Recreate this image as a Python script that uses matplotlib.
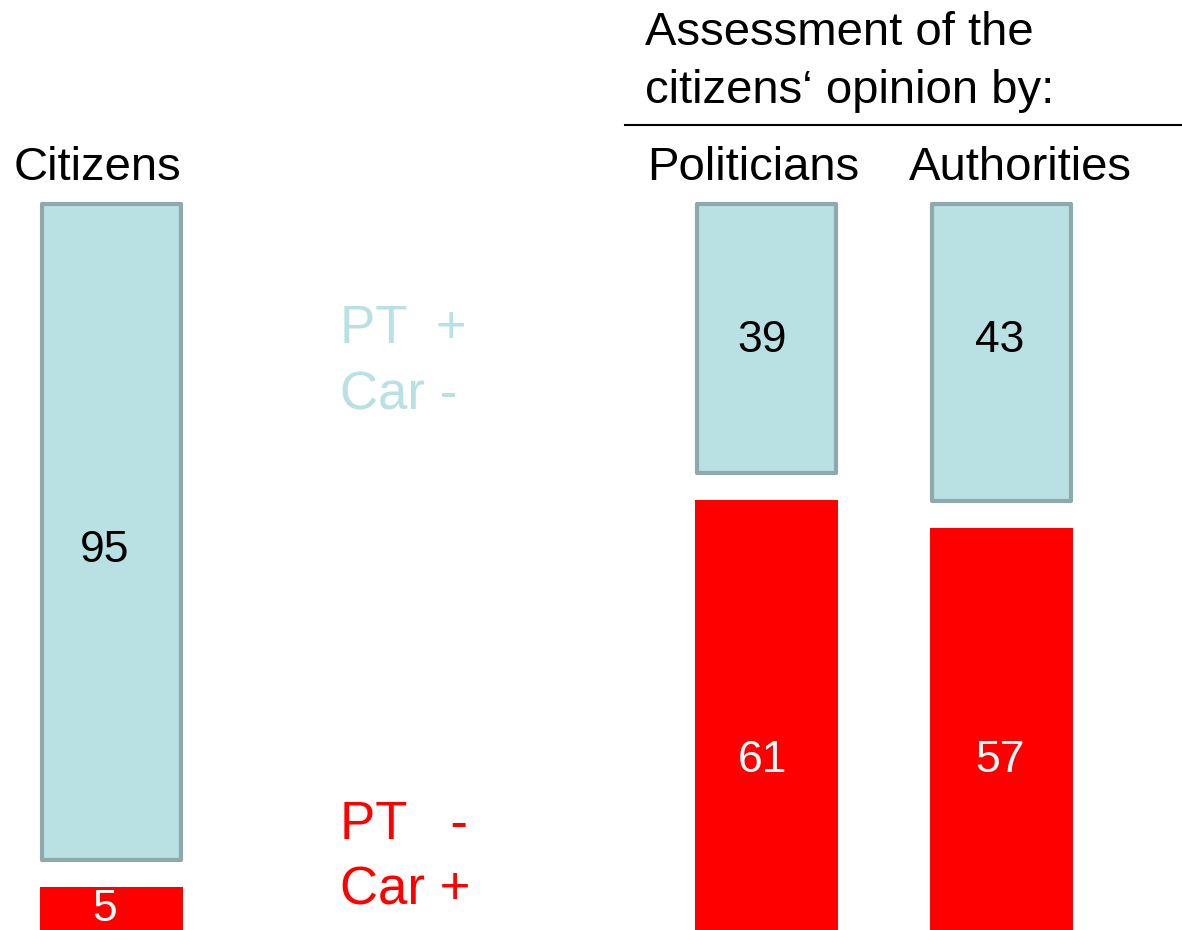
import matplotlib
matplotlib.use('Agg')
import matplotlib.pyplot as plt

# data
groups = ['Citizens', 'Politicians', 'Authorities']
pt_plus = [95, 39, 43]     # PT + / Car -
pt_minus = [5, 61, 57]     # PT - / Car +
title_txt = 'Assessment of the\ncitizens\u2018 opinion by:'

plt.rcParams['font.family'] = ['Liberation Sans', 'DejaVu Sans']

W, H = 1182, 930
fig = plt.figure(figsize=(W / 100, H / 100), dpi=100)
ax = fig.add_axes([0, 0, 1, 1])

scale = 6.9    # px per unit
gap = 3.9      # white gap between the two parts
y0 = -1.3      # red bars run slightly below the picture edge
ax.set_xlim(0, W)
ax.set_ylim(y0, y0 + H / scale)
ax.axis('off')

xpos = [111, 766, 1001]
red = '#ff0000'
blue = '#b9e0e3'
edge = '#8fa8aa'

ax.bar(xpos, [v - y0 for v in pt_minus], bottom=y0, width=143, color=red,
       linewidth=0)
bottoms = [v + gap for v in pt_minus]
ax.bar(xpos, pt_plus, bottom=bottoms, width=139, color=blue,
       edgecolor=edge, linewidth=3, joinstyle='round')


def fx(x):
    return x / W


def fy(y):
    return 1 - y / H


fs = 34
# group headers
fig.text(fx(97), fy(168), groups[0], fontsize=fs, ha='center', va='center')
fig.text(fx(753), fy(168), groups[1], fontsize=fs, ha='center', va='center')
fig.text(fx(1020), fy(168), groups[2], fontsize=fs, ha='center', va='center')

fig.text(fx(645), fy(62), title_txt, fontsize=fs, ha='left', va='center',
         linespacing=1.39)
ax.plot([fx(625), fx(1182)], [fy(125), fy(125)], color='black', lw=1.5,
        transform=fig.transFigure, clip_on=False)

# side labels
fig.text(fx(340), fy(362), 'PT  +\nCar -', fontsize=38, color=blue,
         ha='left', va='center', linespacing=1.42)
fig.text(fx(340), fy(858), 'PT   -\nCar +', fontsize=38, color=red,
         ha='left', va='center', linespacing=1.4)

# value labels
blue_lab_y = [550, 340, 340]
red_lab_y = [909, 760, 760]
lab_x = [105, 762, 1000]
for i in range(len(groups)):
    fig.text(fx(lab_x[i]), fy(blue_lab_y[i]), str(pt_plus[i]), fontsize=32,
             color='black', ha='center', va='center')
    fig.text(fx(lab_x[i]), fy(red_lab_y[i]), str(pt_minus[i]), fontsize=32,
             color='white', ha='center', va='center')

fig.savefig('out.png', dpi=100)
